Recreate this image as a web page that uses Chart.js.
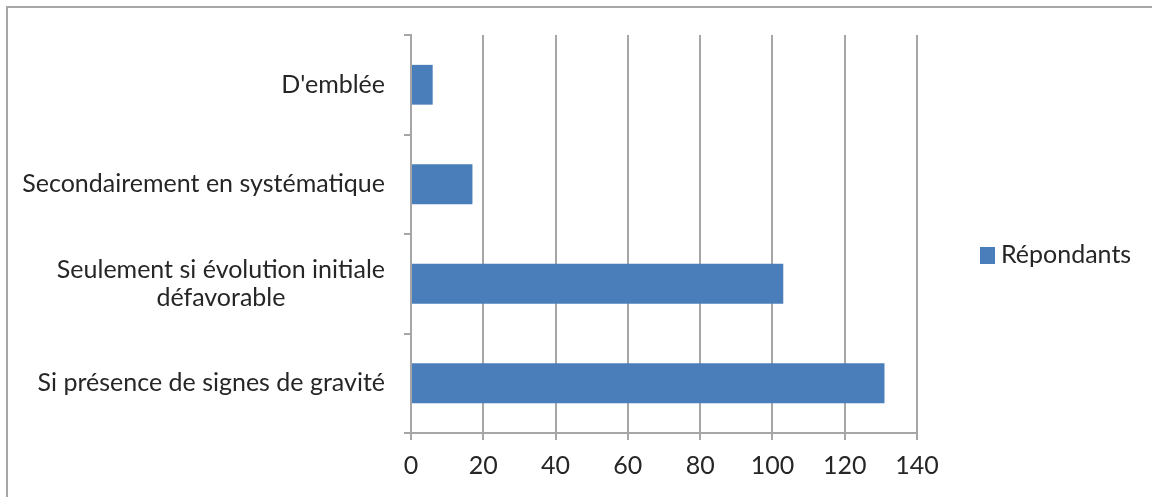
<!DOCTYPE html>
<html>
<head>
<meta charset="utf-8">
<script src="https://cdn.jsdelivr.net/npm/chart.js@4"></script>
<style>
  body { margin: 0; background: #fff; }
  #wrap { position: relative; width: 1152px; height: 497px; overflow: hidden; }
  #frame { position: absolute; left: 6px; top: 6px; width: 1200px; height: 600px;
           border-left: 2px solid #a6a6a6; border-top: 2px solid #a6a6a6; pointer-events: none; }
  #legend { position: absolute; left: 980px; top: 238px; font-family: Lato, sans-serif;
            font-size: 25px; line-height: 30px; color: #262626; white-space: nowrap; }
  #legend span.box { display: inline-block; width: 15px; height: 17px; background: #4a7ebb;
                     margin-right: 6px; vertical-align: -1px; }
</style>
</head>
<body>
<div id="wrap">
  <canvas id="chart" width="1152" height="497"></canvas>
  <div id="frame"></div>
  <div id="legend"><span class="box"></span>Répondants</div>
</div>
<script>
var categories = ["D'emblée", "Secondairement en systématique", ["Seulement si évolution initiale", "défavorable"], "Si présence de signes de gravité"];
var repondants = [6, 17, 103, 131];
var seriesName = "Répondants";
var xMin = 0;
var xMax = 140;
var xStep = 20;

var gridColor = '#a6a6a6';
var textColor = '#262626';
var fontFamily = 'Lato, sans-serif';

// labels de catégories dessinés à la main pour centrer les lignes multiples
var categoryLabels = {
  id: 'categoryLabels',
  afterDraw: function(chart) {
    var ctx = chart.ctx;
    var yScale = chart.scales.y;
    ctx.save();
    ctx.font = '25px ' + fontFamily;
    ctx.fillStyle = textColor;
    ctx.textAlign = 'center';
    ctx.textBaseline = 'middle';
    var xr = 385;
    var lineH = 28;
    chart.data.labels.forEach(function(lab, i) {
      var lines = Array.isArray(lab) ? lab : [lab];
      var w = 0;
      lines.forEach(function(l) { w = Math.max(w, ctx.measureText(l).width); });
      var yc = yScale.getPixelForTick(i);
      var y0 = yc - (lines.length - 1) * lineH / 2;
      lines.forEach(function(l, k) {
        ctx.fillText(l, xr - w / 2, y0 + k * lineH);
      });
    });
    ctx.restore();
  }
};

var chart = new Chart(document.getElementById('chart').getContext('2d'), {
  type: 'bar',
  data: {
    labels: categories,
    datasets: [{
      label: seriesName,
      data: repondants,
      backgroundColor: '#4a7ebb',
      barPercentage: 0.5,
      categoryPercentage: 0.8
    }]
  },
  options: {
    indexAxis: 'y',
    responsive: false,
    animation: false,
    devicePixelRatio: 1,
    layout: { padding: { top: 35, right: 235, left: 0, bottom: 0 } },
    plugins: { legend: { display: false }, tooltip: { enabled: false } },
    scales: {
      x: {
        min: xMin,
        max: xMax,
        ticks: { stepSize: xStep, color: textColor, padding: 11, font: { family: fontFamily, size: 25 } },
        grid: { color: gridColor, lineWidth: 2, tickLength: 7 },
        border: { color: gridColor, width: 2 },
        afterFit: function(s) { s.height = 64; }
      },
      y: {
        ticks: { display: false },
        grid: { drawOnChartArea: false, drawTicks: true, tickLength: 7, color: gridColor, lineWidth: 2, offset: true },
        border: { color: gridColor, width: 2 },
        afterFit: function(s) { s.width = 411; }
      }
    }
  },
  plugins: [categoryLabels]
});
</script>
</body>
</html>
